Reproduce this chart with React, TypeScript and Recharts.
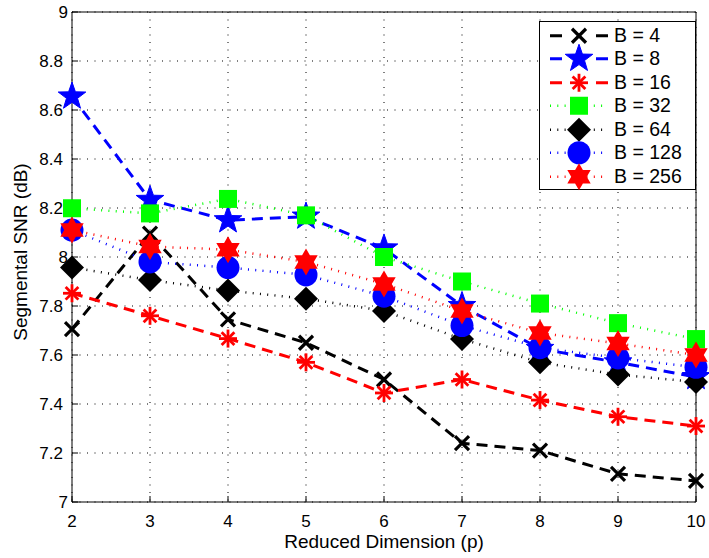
import React from 'react';
import { LineChart, Line, XAxis, YAxis, CartesianGrid, Legend } from 'recharts';

// reduced dimension p on the x axis
const dims = [2, 3, 4, 5, 6, 7, 8, 9, 10];

// segmental SNR (dB) per codebook size B
const snrB4 = [7.706, 8.095, 7.745, 7.65, 7.5, 7.24, 7.21, 7.115, 7.086];
const snrB8 = [8.655, 8.233, 8.15, 8.165, 8.035, 7.8, 7.625, 7.57, 7.51];
const snrB16 = [7.852, 7.76, 7.667, 7.57, 7.445, 7.5, 7.416, 7.348, 7.31];
const snrB32 = [8.199, 8.178, 8.237, 8.17, 8.0, 7.9, 7.81, 7.73, 7.665];
const snrB64 = [7.957, 7.906, 7.863, 7.83, 7.78, 7.665, 7.57, 7.52, 7.49];
const snrB128 = [8.11, 7.98, 7.957, 7.927, 7.84, 7.72, 7.63, 7.588, 7.55];
const snrB256 = [8.11, 8.043, 8.03, 7.98, 7.89, 7.78, 7.69, 7.647, 7.6];

const yTicks = [7, 7.2, 7.4, 7.6, 7.8, 8, 8.2, 8.4, 8.6, 8.8, 9];

const FONT = '"Liberation Sans", Arial, Helvetica, sans-serif';
const DASH = '11 7';
const DOT = '1 6.3';

type MarkerKind = 'x' | 'star' | 'asterisk' | 'square' | 'diamond' | 'circle' | 'hexagram';

interface SeriesDef {
  key: string;
  name: string;
  values: number[];
  color: string;
  dash: string;
  legendDash: string;
  width: number;
  marker: MarkerKind;
}

const series: SeriesDef[] = [
  { key: 'b4', name: 'B = 4', values: snrB4, color: '#000000', dash: DASH, legendDash: '12 34', width: 3, marker: 'x' },
  { key: 'b8', name: 'B = 8', values: snrB8, color: '#0000ff', dash: DASH, legendDash: '12 34', width: 3, marker: 'star' },
  { key: 'b16', name: 'B = 16', values: snrB16, color: '#ff0000', dash: DASH, legendDash: '12 34', width: 3, marker: 'asterisk' },
  { key: 'b32', name: 'B = 32', values: snrB32, color: '#00ff00', dash: DOT, legendDash: DOT, width: 2.5, marker: 'square' },
  { key: 'b64', name: 'B = 64', values: snrB64, color: '#000000', dash: DOT, legendDash: DOT, width: 2.5, marker: 'diamond' },
  { key: 'b128', name: 'B = 128', values: snrB128, color: '#0000ff', dash: DOT, legendDash: DOT, width: 2.5, marker: 'circle' },
  { key: 'b256', name: 'B = 256', values: snrB256, color: '#ff0000', dash: DOT, legendDash: DOT, width: 2.5, marker: 'hexagram' },
];

const data = dims.map((p, i) => {
  const row: Record<string, number> = { p };
  series.forEach((s) => {
    row[s.key] = s.values[i];
  });
  return row;
});

function starPoints(cx: number, cy: number, n: number, outer: number, inner: number) {
  const pts: string[] = [];
  for (let i = 0; i < 2 * n; i++) {
    const r = i % 2 === 0 ? outer : inner;
    const a = -Math.PI / 2 + (i * Math.PI) / n;
    pts.push(`${cx + r * Math.cos(a)},${cy + r * Math.sin(a)}`);
  }
  return pts.join(' ');
}

function Marker({ kind, cx, cy, color }: { kind: MarkerKind; cx: number; cy: number; color: string }) {
  switch (kind) {
    case 'x': {
      const h = 7;
      return (
        <g stroke={color} strokeWidth={3.2}>
          <line x1={cx - h} y1={cy - h} x2={cx + h} y2={cy + h} />
          <line x1={cx - h} y1={cy + h} x2={cx + h} y2={cy - h} />
        </g>
      );
    }
    case 'asterisk': {
      const h = 9;
      const d = h * 0.707;
      return (
        <g stroke={color} strokeWidth={2.8}>
          <line x1={cx} y1={cy - h} x2={cx} y2={cy + h} />
          <line x1={cx - h} y1={cy} x2={cx + h} y2={cy} />
          <line x1={cx - d} y1={cy - d} x2={cx + d} y2={cy + d} />
          <line x1={cx - d} y1={cy + d} x2={cx + d} y2={cy - d} />
        </g>
      );
    }
    case 'square':
      return <rect x={cx - 9} y={cy - 9} width={18} height={18} fill={color} />;
    case 'diamond':
      return <polygon points={`${cx},${cy - 12} ${cx + 12},${cy} ${cx},${cy + 12} ${cx - 12},${cy}`} fill={color} />;
    case 'circle':
      return <circle cx={cx} cy={cy} r={11.5} fill={color} />;
    case 'star':
      return <polygon points={starPoints(cx, cy, 5, 14.5, 5.8)} fill={color} stroke={color} strokeWidth={1} />;
    case 'hexagram':
      return <polygon points={starPoints(cx, cy, 6, 13.5, 7.8)} fill={color} />;
    default:
      return null;
  }
}

// legend keeps the plotting order of the series, like the original figure
function LegendContent() {
  return (
    <div
      style={{
        width: 157,
        height: 169,
        boxSizing: 'border-box',
        border: '1px solid #000',
        background: '#fff',
        paddingTop: 1.5,
        fontFamily: FONT,
      }}
    >
      {series.map((s) => (
        <div key={s.key} style={{ display: 'flex', alignItems: 'center', height: 23.5 }}>
          <svg width={58} height={23.5} style={{ marginLeft: 10, overflow: 'visible' }}>
            <line x1={0} x2={58} y1={11.75} y2={11.75} stroke={s.color} strokeWidth={s.width} strokeDasharray={s.legendDash} />
            <Marker kind={s.marker} cx={29} cy={11.75} color={s.color} />
          </svg>
          <span style={{ marginLeft: 6, fontSize: 19.5, color: '#000', lineHeight: '23.5px' }}>{s.name}</span>
        </div>
      ))}
    </div>
  );
}

function YTick(props: any) {
  const { x, y, payload } = props;
  const v = Number(payload.value);
  const label = String(Number(v.toFixed(1)));
  const shift = Number.isInteger(Number(label)) ? 5 : 0;
  return (
    <text x={x + shift} y={y} dy="0.355em" textAnchor="end" fill="#000" fontSize={17} fontFamily={FONT}>
      {label}
    </text>
  );
}

export default function App() {
  return (
    <div>
      <style>{'body{margin:0;background:#fff}'}</style>
      <LineChart width={709} height={558} data={data} margin={{ top: 11, right: 12, bottom: 8, left: 12 }} style={{ fontFamily: FONT }}>
        <CartesianGrid stroke="#000" strokeWidth={1} strokeDasharray="1 6.5" />
        <XAxis
          dataKey="p"
          type="number"
          domain={[2, 10]}
          ticks={dims}
          interval={0}
          height={48}
          tickSize={-6}
          tickMargin={19}
          axisLine={{ stroke: '#000' }}
          tickLine={{ stroke: '#000' }}
          tick={{ fill: '#000', fontSize: 17, fontFamily: FONT }}
          label={{
            content: (p: any) => {
              const vb = p.viewBox || { x: 72, y: 502, width: 624, height: 48 };
              return (
                <text x={vb.x + vb.width / 2} y={vb.y + 46} textAnchor="middle" fill="#000" fontSize={19} fontFamily={FONT}>
                  Reduced Dimension (p)
                </text>
              );
            },
          }}
        />
        <XAxis
          xAxisId="top"
          orientation="top"
          type="number"
          domain={[2, 10]}
          ticks={dims}
          interval={0}
          height={1}
          tickSize={-6}
          tick={false}
          axisLine={{ stroke: '#000' }}
          tickLine={{ stroke: '#000' }}
        />
        <YAxis
          type="number"
          domain={[7, 9]}
          ticks={yTicks}
          interval={0}
          width={60}
          tickSize={-6}
          tickMargin={15}
          axisLine={{ stroke: '#000' }}
          tickLine={{ stroke: '#000' }}
          tick={YTick}
          label={{
            content: (p: any) => {
              const vb = p.viewBox || { x: 12, y: 12, width: 60, height: 490 };
              const x = vb.x + 15;
              const y = vb.y + vb.height / 2 - 5;
              return (
                <text x={x} y={y} transform={`rotate(-90, ${x}, ${y})`} textAnchor="middle" fill="#000" fontSize={19} fontFamily={FONT}>
                  Segmental SNR (dB)
                </text>
              );
            },
          }}
        />
        <YAxis
          yAxisId="right"
          orientation="right"
          type="number"
          domain={[7, 9]}
          ticks={yTicks}
          interval={0}
          width={1}
          tickSize={-6}
          tick={false}
          axisLine={{ stroke: '#000' }}
          tickLine={{ stroke: '#000' }}
        />
        <Legend
          content={LegendContent}
          layout="vertical"
          align="center"
          verticalAlign="middle"
          wrapperStyle={{ left: 539, top: 21, width: 157, height: 169 }}
        />
        {series.map((s) => (
          <Line
            key={s.key}
            dataKey={s.key}
            name={s.name}
            stroke={s.color}
            strokeWidth={s.width}
            strokeDasharray={s.dash}
            type="linear"
            isAnimationActive={false}
            activeDot={false}
            dot={(dp: any) => <Marker key={`${s.key}-${dp.index}`} kind={s.marker} cx={dp.cx} cy={dp.cy} color={s.color} />}
          />
        ))}
      </LineChart>
    </div>
  );
}
